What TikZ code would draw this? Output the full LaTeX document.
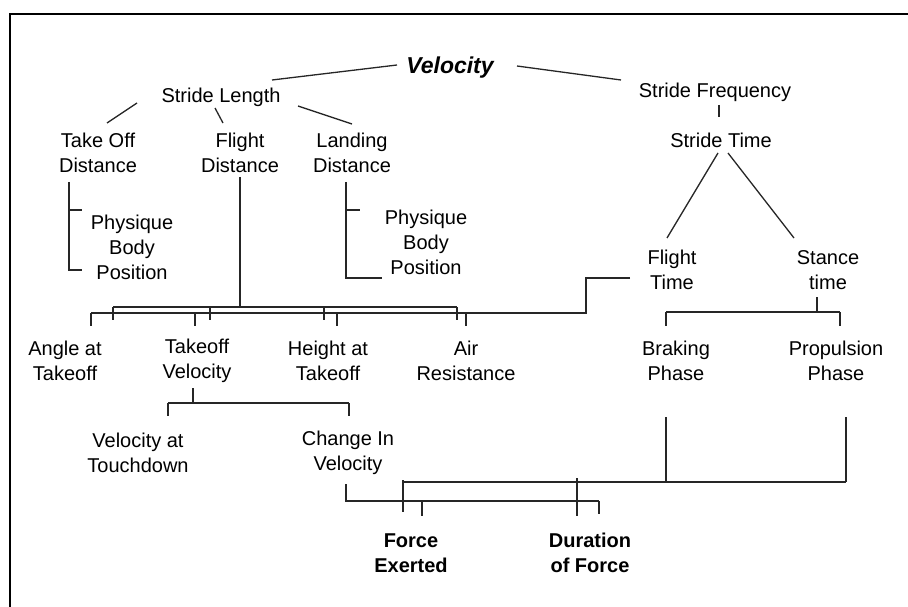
\documentclass[tikz,border=0pt]{standalone}
\usepackage{fontspec}
\setmainfont{Liberation Sans}
\begin{document}
\begin{tikzpicture}[x=1pt,y=-1pt,
  lbl/.style={font=\fontsize{20}{25}\selectfont, inner sep=0pt, align=center, text=black},
  bld/.style={lbl, font=\fontsize{20}{25}\selectfont\bfseries},
  conn/.style={draw=black!85, line width=1.3pt},
  frame/.style={draw=black, line width=2pt}
]
\useasboundingbox (0,0) rectangle (908,607);
% frame (open on right and bottom)
\draw[frame] (10.3,607) -- (10.3,14) -- (908,14);

% ---- nodes ----
\node[anchor=base, inner sep=0pt, font=\fontsize{23}{28}\selectfont\bfseries\itshape] (vel) at (450,74) {Velocity};
\node[lbl, anchor=base] (sl) at (221,103) {Stride Length};
\node[lbl, anchor=base] (sf) at (715,98) {Stride Frequency};
\node[lbl, anchor=base] (st) at (721,148) {Stride Time};

\node[lbl] (tod) at (98,153) {Take Off\\Distance};
\node[lbl] (fd)  at (240,153) {Flight\\Distance};
\node[lbl] (ld)  at (352,153) {Landing\\Distance};

\node[lbl] (phy1) at (132,247) {Physique\\Body\\Position};
\node[lbl] (phy2) at (426,242) {Physique\\Body\\Position};

\node[lbl] (ft)  at (672,270) {Flight\\Time};
\node[lbl] (stn) at (828,270) {Stance\\time};

\node[lbl] (ang) at (65,361)  {Angle at\\Takeoff};
\node[lbl] (tov) at (197,361) {Takeoff\\Velocity};
\node[lbl] (hat) at (328,361) {Height at\\Takeoff};
\node[lbl] (air) at (466,361) {Air\\Resistance};
\node[lbl] (brk) at (676,361) {Braking\\Phase};
\node[lbl] (prp) at (836,361) {Propulsion\\Phase};

\node[lbl] (vtd) at (138,453) {Velocity at\\Touchdown};
\node[lbl] (civ) at (348,453) {Change In\\Velocity};

\node[bld] (fe)  at (411,553) {Force\\Exerted};
\node[bld] (dof) at (590,553) {Duration\\of Force};

% ---- connector end points ----
\coordinate (vel-l) at (397,65);  \coordinate (sl-t) at (272,80);
\coordinate (vel-r) at (517,66);  \coordinate (sf-t) at (621,80);
\coordinate (sl-l) at (137,103);  \coordinate (tod-t) at (107,123);
\coordinate (sl-m) at (215,108);  \coordinate (fd-t) at (223,123);
\coordinate (sl-r) at (298,106);  \coordinate (ld-t) at (352,124);
\coordinate (sf-b) at (719,105);  \coordinate (st-t) at (719,117);
\coordinate (st-l) at (718,153);  \coordinate (ft-t) at (667,238);
\coordinate (st-r) at (728,153);  \coordinate (stn-t) at (794,238);
\coordinate (tod-b) at (69,182);
\coordinate (ld-b) at (346,182);
\coordinate (fd-b) at (240,177);
\coordinate (ft-l) at (630,278);
\coordinate (stn-b) at (817,297);
\coordinate (tov-b) at (193,388);
\coordinate (brk-b) at (666,417);
\coordinate (prp-b) at (846,417);
\coordinate (civ-b) at (346,484);

% ---- connectors ----
\draw[conn] (vel-l) -- (sl-t);
\draw[conn] (vel-r) -- (sf-t);
\draw[conn] (sl-l) -- (tod-t);
\draw[conn] (sl-m) -- (fd-t);
\draw[conn] (sl-r) -- (ld-t);
\draw[conn] (sf-b) -- (st-t);
\draw[conn] (st-l) -- (ft-t);
\draw[conn] (st-r) -- (stn-t);

% Take Off Distance -> Physique
\draw[conn] (tod-b) -- (69,270) -- (82,270);
\draw[conn] (69,210) -- (82,210);
% Landing Distance -> Physique
\draw[conn] (ld-b) -- (346,278) -- (382,278);
\draw[conn] (346,210) -- (360,210);

% Flight Distance tree
\draw[conn] (fd-b) -- (240,307);
\draw[conn] (113,307) -- (457,307);
\foreach \x in {113,210,324,457} \draw[conn] (\x,307) -- (\x,320);

% Flight Time tree
\draw[conn] (ft-l) -- (586,278) -- (586,313) -- (91,313);
\foreach \x in {91,195,337,466} \draw[conn] (\x,313) -- (\x,326);

% Stance time tree
\draw[conn] (stn-b) -- (817,312);
\draw[conn] (666,312) -- (840,312);
\foreach \x in {666,840} \draw[conn] (\x,312) -- (\x,326);

% Takeoff Velocity tree
\draw[conn] (tov-b) -- (193,403);
\draw[conn] (168,403) -- (349,403);
\foreach \x in {168,349} \draw[conn] (\x,403) -- (\x,416);

% Braking / Propulsion tree
\draw[conn] (brk-b) -- (666,482);
\draw[conn] (prp-b) -- (846,482);
\draw[conn] (403,482) -- (846,482);
\draw[conn] (403,480) -- (403,512);
\draw[conn] (577,478) -- (577,516);

% Change In Velocity tree
\draw[conn] (civ-b) -- (346,501) -- (599,501);
\draw[conn] (422,501) -- (422,516);
\draw[conn] (599,501) -- (599,514);
\end{tikzpicture}
\end{document}
